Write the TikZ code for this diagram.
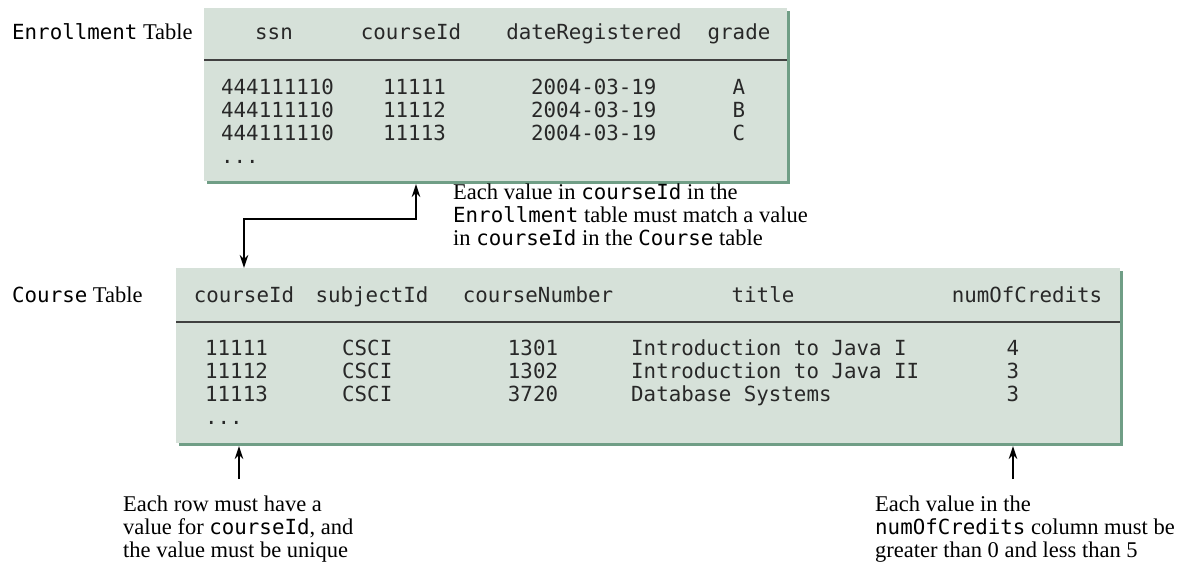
\documentclass[tikz,border=0pt]{standalone}
\usepackage{fontspec}
\setmainfont{Liberation Serif}
\setmonofont{DejaVu Sans Mono}
\usetikzlibrary{calc,arrows.meta}

\definecolor{tablefill}{RGB}{214,225,217}
\definecolor{tableedge}{RGB}{112,158,134}
\definecolor{celltext}{RGB}{40,40,40}

\newcommand{\cellfont}{\ttfamily\fontsize{20.8}{23}\selectfont}
\newcommand{\notefont}{\fontsize{22.5}{23}\selectfont}
\newcommand{\code}[1]{{\ttfamily\fontsize{20.8}{23}\selectfont #1}}

% multi-line nodes sit on the baseline of their last line
\tikzset{
  head/.style={anchor=base, inner sep=0pt, font=\cellfont, text=celltext},
  col/.style={anchor=base west, inner sep=0pt, align=left, font=\cellfont, text=celltext},
  note/.style={anchor=base west, inner sep=0pt, align=left, font=\notefont},
  headrule/.style={line width=1.3pt, draw=black!75},
  link/.style={line width=1.8pt, >={Stealth[length=13pt,width=8.5pt]}}
}

\begin{document}
\begin{tikzpicture}[x=1pt, y=-1pt]
  \useasboundingbox (0,0) rectangle (1181,564);
  % corners of the two tables
  \coordinate (E1) at (204,8);
  \coordinate (E2) at ($(E1) + (583,173)$);
  \coordinate (EH) at ($(E1) + (0,52)$);
  \coordinate (C1) at (176,268);
  \coordinate (C2) at ($(C1) + (944,175)$);
  \coordinate (CH) at ($(C1) + (0,54)$);
  \fill[tableedge] ($(E1) + (3,3)$) rectangle ($(E2) + (3,3)$);
  \fill[tablefill] (E1) rectangle (E2);
  \draw[headrule] (EH) -- (EH -| E2);
  \fill[tableedge] ($(C1) + (3,3)$) rectangle ($(C2) + (3,3)$);
  \fill[tablefill] (C1) rectangle (C2);
  \draw[headrule] (CH) -- (CH -| C2);

  \node[note] (elabel) at (12,40) {\code{Enrollment} Table};
  \node[note] (clabel) at (12,302) {\code{Course} Table};

  % Enrollment table
  \node[head] (essn) at (274,40) {ssn};
  \node[head] (ecid) at (411,40) {courseId};
  \node[head] (edate) at (594,40) {dateRegistered};
  \node[head] (egrade) at (739,40) {grade};
  \node[col] (essnv) at (221,164) {444111110\\444111110\\444111110\\...};
  \node[col] (ecidv) at (383,141) {11111\\11112\\11113};
  \node[col] (edatev) at (531,141) {2004-03-19\\2004-03-19\\2004-03-19};
  \node[col, anchor=base, align=center] (egradev) at (739,141) {A\\B\\C};

  % Course table
  \node[head] (ccid) at (244,302) {courseId};
  \node[head] (csub) at (372,302) {subjectId};
  \node[head] (cnum) at (538,302) {courseNumber};
  \node[head] (ctitle) at (763,302) {title};
  \node[head] (ccred) at (1027,302) {numOfCredits};
  \node[col] (ccidv) at (205,424) {11111\\11112\\11113\\...};
  \node[col] (csubv) at (342,401) {CSCI\\CSCI\\CSCI};
  \node[col, anchor=base, align=center] (cnumv) at (533,401) {1301\\1302\\3720};
  \node[col] (ctitlev) at (631,401) {Introduction to Java I\\Introduction to Java II\\Database Systems};
  \node[col, anchor=base, align=center] (ccredv) at (1013,401) {4\\3\\3};

  % notes
  \node[note] (enote) at (453,246) {Each value in \code{courseId} in the\\\code{Enrollment} table must match a value\\in \code{courseId} in the \code{Course} table};
  \node[note] (knote) at (123,557) {Each row must have a\\value for \code{courseId}, and\\the value must be unique};
  \node[note] (rnote) at (875,557) {Each value in the\\\code{numOfCredits} column must be\\greater than 0 and less than 5};

  % arrows
  \coordinate (ET) at (416,184);
  \coordinate (M) at (244,219);
  \coordinate (CT) at (244,268);
  \coordinate (KT) at (239,479);
  \coordinate (KB) at (239,446);
  \coordinate (RT) at (1013,479);
  \coordinate (RB) at (1013,446);
  \draw[link, <->] (ET) |- (M) -- (CT);
  \draw[link, ->] (KT) -- (KB);
  \draw[link, ->] (RT) -- (RB);
\end{tikzpicture}
\end{document}
